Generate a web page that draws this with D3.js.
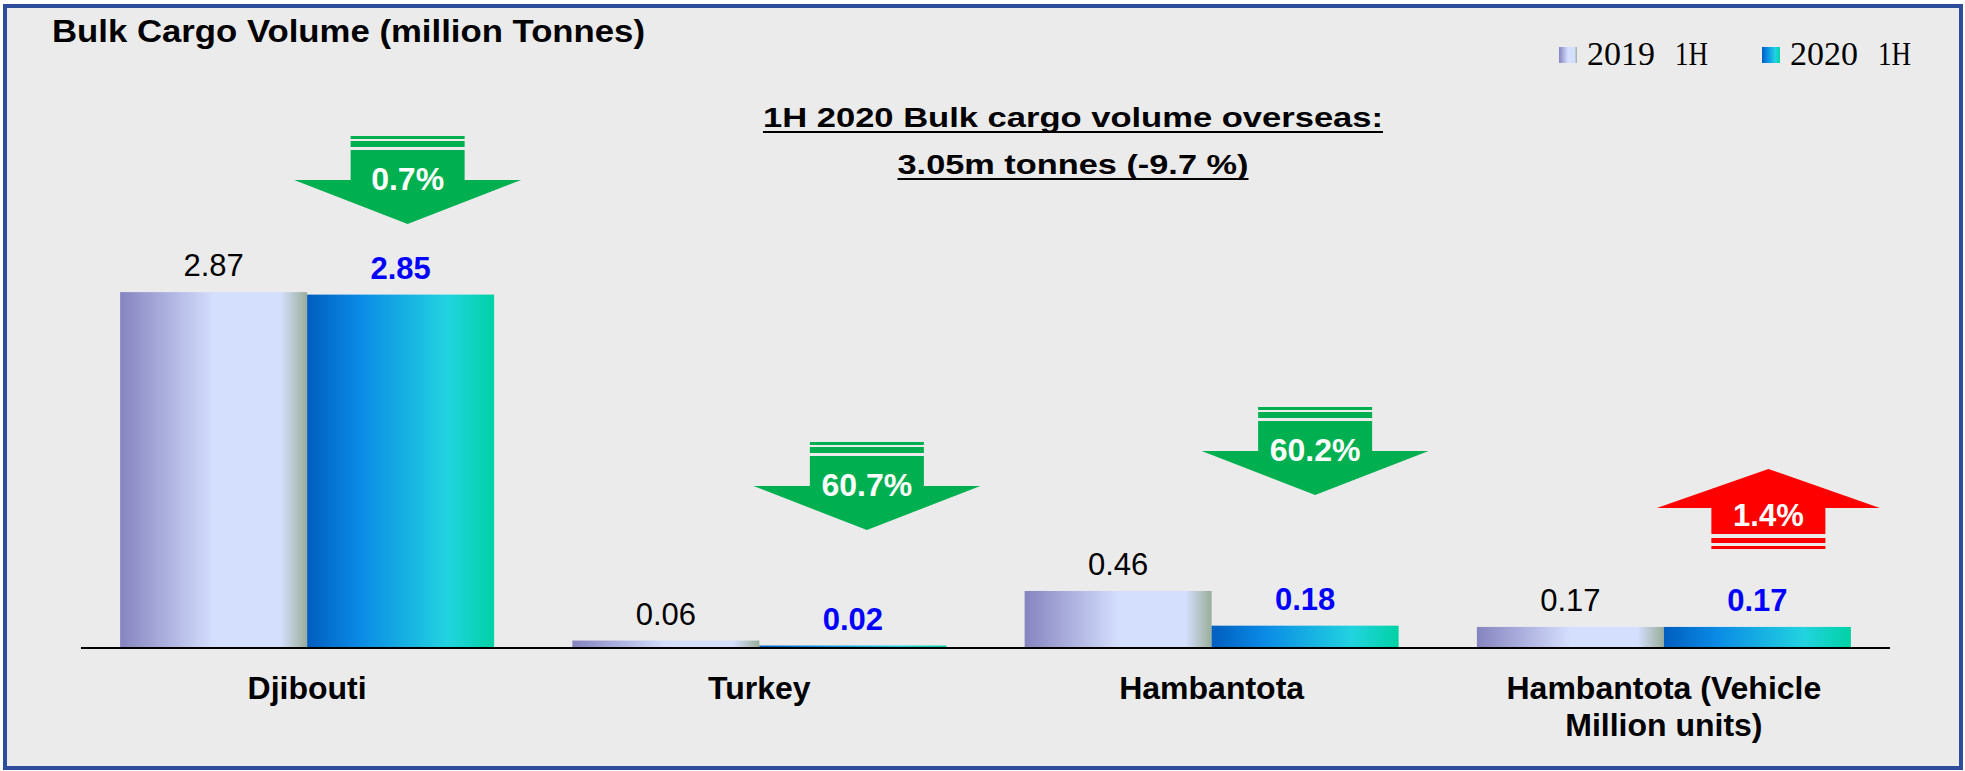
<!DOCTYPE html>
<html lang="en">
<head>
    <meta charset="UTF-8">
    <title>Bulk Cargo Volume</title>
    <style>
        body {
            margin: 0;
            padding: 0;
            overflow: hidden;
            background: #ffffff;
            font-family: "Liberation Sans", Arial, sans-serif;
        }
    </style>
    <script src="https://d3js.org/d3.v7.min.js"></script>
</head>
<body>
    <div id="chart"></div>

    <script>
        // Chart data
        const categories = ['Djibouti', 'Turkey', 'Hambantota', 'Hambantota (Vehicle Million units)'];
        const categoryLines = [['Djibouti'], ['Turkey'], ['Hambantota'], ['Hambantota (Vehicle', 'Million units)']];
        const seriesNames = ['2019 1H', '2020 1H'];
        const values2019 = [2.87, 0.06, 0.46, 0.17];
        const values2020 = [2.85, 0.02, 0.18, 0.17];
        const changeLabels = ['0.7%', '60.7%', '60.2%', '1.4%'];
        const changeDirection = ['down', 'down', 'down', 'up'];

        const width = 1965, height = 771;

        const svg = d3.select('#chart')
            .append('svg')
            .attr('width', width)
            .attr('height', height);

        const defs = svg.append('defs');

        // Bar gradients
        function gradient(id, stops) {
            const g = defs.append('linearGradient')
                .attr('id', id)
                .attr('x1', '0').attr('x2', '1')
                .attr('y1', '0').attr('y2', '0');
            stops.forEach(s => g.append('stop').attr('offset', s[0]).attr('stop-color', s[1]));
        }
        gradient('g2019', [[0, '#8684c0'], [0.5, '#d4defd'], [0.86, '#d4defd'], [1, '#9aae9a']]);
        gradient('g2020', [[0, '#005ebf'], [0.28, '#0a8ae5'], [0.75, '#22d3e0'], [1, '#00d2a4']]);
        const fills = ['url(#g2019)', 'url(#g2020)'];

        // Frame
        svg.append('rect')
            .attr('x', 5).attr('y', 6)
            .attr('width', 1956).attr('height', 762)
            .attr('fill', '#ebebeb')
            .attr('stroke', '#2e4d9a')
            .attr('stroke-width', 4);

        // Scales
        const baseY = 648;
        const x0 = d3.scaleBand().domain(categories).range([81, 1890]).paddingInner(0.173).paddingOuter(0.0865);
        const x1 = d3.scaleBand().domain(seriesNames).range([0, x0.bandwidth()]);
        const y = d3.scaleLinear().domain([0, 3]).range([baseY, baseY - 372]);

        const rows = categories.map((c, i) => ({
            cat: c,
            vals: [values2019[i], values2020[i]]
        }));

        // Bars
        const groups = svg.selectAll('.grp')
            .data(rows)
            .enter().append('g')
            .attr('class', 'grp')
            .attr('transform', d => `translate(${x0(d.cat)},0)`);

        groups.selectAll('rect')
            .data(d => d.vals.map((v, j) => ({ v, s: seriesNames[j], j })))
            .enter().append('rect')
            .attr('x', d => x1(d.s))
            .attr('y', d => y(d.v))
            .attr('width', x1.bandwidth())
            .attr('height', d => y(0) - y(d.v) + 1)
            .attr('fill', d => fills[d.j]);

        // Value labels
        groups.selectAll('.val')
            .data(d => d.vals.map((v, j) => ({ v, s: seriesNames[j], j })))
            .enter().append('text')
            .attr('class', 'val')
            .attr('x', d => x1(d.s) + x1.bandwidth() / 2)
            .attr('y', d => y(d.v) - 16)
            .attr('text-anchor', 'middle')
            .attr('font-size', 31)
            .attr('font-weight', d => d.j === 1 ? 'bold' : 'normal')
            .attr('fill', d => d.j === 1 ? '#0000ff' : '#000000')
            .text(d => d.v.toFixed(2));

        // Baseline
        svg.append('line')
            .attr('x1', 81).attr('x2', 1890)
            .attr('y1', baseY).attr('y2', baseY)
            .attr('stroke', '#000')
            .attr('stroke-width', 2);

        // Category labels
        const catText = svg.selectAll('.cat')
            .data(categories)
            .enter().append('text')
            .attr('class', 'cat')
            .attr('text-anchor', 'middle')
            .attr('font-size', 32)
            .attr('font-weight', 'bold')
            .attr('fill', '#000');
        catText.each(function(d, i) {
            const t = d3.select(this);
            categoryLines[i].forEach((line, k) => {
                t.append('tspan')
                    .attr('x', x0(d) + x0.bandwidth() / 2)
                    .attr('y', 699 + k * 37)
                    .text(line);
            });
        });

        // Title
        svg.append('text')
            .attr('x', 52).attr('y', 42)
            .attr('font-size', 31)
            .attr('font-weight', 'bold')
            .attr('textLength', 593)
            .attr('lengthAdjust', 'spacingAndGlyphs')
            .text('Bulk Cargo Volume (million Tonnes)');

        // Subtitle (underlined)
        const subLines = [
            { text: '1H 2020 Bulk cargo volume overseas:', y: 127, w: 620 },
            { text: '3.05m tonnes (-9.7 %)', y: 174, w: 351 }
        ];
        const subCx = 1073;
        subLines.forEach(s => {
            svg.append('text')
                .attr('x', subCx - s.w / 2).attr('y', s.y)
                .attr('font-size', 28)
                .attr('font-weight', 'bold')
                .attr('textLength', s.w)
                .attr('lengthAdjust', 'spacingAndGlyphs')
                .text(s.text);
            svg.append('line')
                .attr('x1', subCx - s.w / 2).attr('x2', subCx + s.w / 2)
                .attr('y1', s.y + 5).attr('y2', s.y + 5)
                .attr('stroke', '#000').attr('stroke-width', 2);
        });

        // Legend
        const legendX = [1559, 1762];
        seriesNames.forEach((name, i) => {
            const parts = name.split(' ');
            svg.append('rect')
                .attr('x', legendX[i]).attr('y', 47)
                .attr('width', 18).attr('height', 16)
                .attr('fill', fills[i]);
            svg.append('text')
                .attr('x', legendX[i] + 28).attr('y', 65)
                .attr('font-family', '"Liberation Serif", "DejaVu Serif", serif')
                .attr('font-size', 34)
                .attr('textLength', 68)
                .attr('lengthAdjust', 'spacingAndGlyphs')
                .text(parts[0]);
            svg.append('text')
                .attr('x', legendX[i] + 116).attr('y', 65)
                .attr('font-family', '"Liberation Serif", "DejaVu Serif", serif')
                .attr('font-size', 34)
                .attr('textLength', 33)
                .attr('lengthAdjust', 'spacingAndGlyphs')
                .text(parts[1]);
        });

        // Change arrows (layout per category: top of arrow, x shift from the 2020 bar centre)
        const arrowLayout = [
            { top: 136, dx: 7 },
            { top: 442, dx: 14 },
            { top: 407, dx: 10 },
            { top: 469, dx: 11 }
        ];
        const wingHalf = 113.5, shaftHalf = 57;

        categories.forEach((c, i) => {
            const cx = x0(c) + x1(seriesNames[1]) + x1.bandwidth() / 2 + arrowLayout[i].dx;
            const t = arrowLayout[i].top;
            const g = svg.append('g');
            if (changeDirection[i] === 'down') {
                const col = '#00b050';
                g.append('rect').attr('x', cx - shaftHalf).attr('y', t).attr('width', shaftHalf * 2).attr('height', 3).attr('fill', col);
                g.append('rect').attr('x', cx - shaftHalf).attr('y', t + 5).attr('width', shaftHalf * 2).attr('height', 6).attr('fill', col);
                g.append('path')
                    .attr('d', `M${cx - shaftHalf},${t + 14} H${cx + shaftHalf} V${t + 44} H${cx + wingHalf} L${cx},${t + 88} L${cx - wingHalf},${t + 44} H${cx - shaftHalf} Z`)
                    .attr('fill', col);
                g.append('text')
                    .attr('x', cx).attr('y', t + 54)
                    .attr('text-anchor', 'middle')
                    .attr('font-size', 32)
                    .attr('font-weight', 'bold')
                    .attr('fill', '#fff')
                    .text(changeLabels[i]);
            } else {
                const col = '#ff0000';
                g.append('path')
                    .attr('d', `M${cx},${t} L${cx + wingHalf - 2},${t + 39} H${cx + shaftHalf} V${t + 65} H${cx - shaftHalf} V${t + 39} H${cx - wingHalf + 2} Z`)
                    .attr('fill', col);
                g.append('rect').attr('x', cx - shaftHalf).attr('y', t + 69).attr('width', shaftHalf * 2).attr('height', 5).attr('fill', col);
                g.append('rect').attr('x', cx - shaftHalf).attr('y', t + 77).attr('width', shaftHalf * 2).attr('height', 3).attr('fill', col);
                g.append('text')
                    .attr('x', cx).attr('y', t + 57)
                    .attr('text-anchor', 'middle')
                    .attr('font-size', 31)
                    .attr('font-weight', 'bold')
                    .attr('fill', '#fff')
                    .text(changeLabels[i]);
            }
        });
    </script>
</body>
</html>
